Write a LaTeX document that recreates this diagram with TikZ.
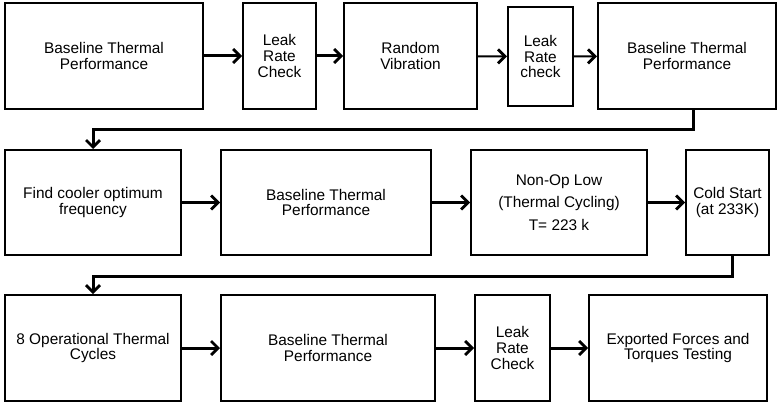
\documentclass[tikz,border=0pt]{standalone}
\usepackage{fontspec}
\setmainfont{Liberation Sans}
\usepackage{tikz}
\usetikzlibrary{calc,arrows.meta}
\tikzset{
  box/.style={draw=black, line width=2pt, align=center, inner sep=2pt,
    font=\fontsize{15.4}{15.8}\selectfont},
  flow/.style={draw=black, line width=3pt,
    -{Straight Barb[length=7pt, width=14pt, line width=2.8pt]}},
  thin flow/.style={flow, line width=2pt},
  link/.style={flow, rounded corners=0pt},
}

\begin{document}
\begin{tikzpicture}[x=1pt, y=-1pt]
  \useasboundingbox (0,0) rectangle (778,404);
  % first row
  \node[box, minimum width=198pt, minimum height=106pt] (b1) at (104,56) {Baseline Thermal\\Performance};
  \node[box, minimum width=73pt, minimum height=106pt] (b2) at (279.5,56) {Leak\\Rate\\Check};
  \node[box, minimum width=133pt, minimum height=106pt] (b3) at (410.5,56) {Random\\Vibration};
  \node[box, minimum width=65pt, minimum height=99pt] (b4) at (540.5,56.5) {Leak\\Rate\\check};
  \node[box, minimum width=178pt, minimum height=106pt] (b5) at (687,56) {Baseline Thermal\\Performance};
  % second row
  \node[box, minimum width=176pt, minimum height=105pt] (b6) at (93,202.5) {Find cooler optimum\\frequency};
  \node[box, minimum width=210pt, minimum height=105pt] (b7) at (326,202.5) {Baseline Thermal\\Performance};
  \node[box, minimum width=176pt, minimum height=105pt] (b8) at (559,202.5) {Non-Op Low\\[6.5pt](Thermal Cycling)\\[6.5pt]T= 223 k};
  \node[box, minimum width=83pt, minimum height=105pt] (b9) at (727.5,202.5) {Cold Start\\(at 233K)};
  % third row
  \node[box, minimum width=176pt, minimum height=106pt] (b10) at (93,348) {8 Operational Thermal\\Cycles};
  \node[box, minimum width=214pt, minimum height=106pt] (b11) at (328,348) {Baseline Thermal\\Performance};
  \node[box, minimum width=75pt, minimum height=106pt] (b12) at (512.5,348) {Leak\\Rate\\Check};
  \node[box, minimum width=178pt, minimum height=106pt] (b13) at (678,348) {Exported Forces and\\Torques Testing};

  \draw[flow] (b1) -- (b2);
  \draw[flow] (b2) -- (b3);
  \draw[thin flow] (b3) -- (b4);
  \draw[thin flow] (b4) -- (b5);
  \draw[link] ([xshift=6pt]b5.south) -- ++(0,19) -| (b6.north);
  \draw[flow] (b6) -- (b7);
  \draw[flow] (b7) -- (b8);
  \draw[flow] (b8) -- (b9);
  \draw[link] ([xshift=4.5pt]b9.south) -- ++(0,20) -| (b10.north);
  \draw[flow] (b10) -- (b11);
  \draw[flow] (b11) -- (b12);
  \draw[flow] (b12) -- (b13);
\end{tikzpicture}
\end{document}
